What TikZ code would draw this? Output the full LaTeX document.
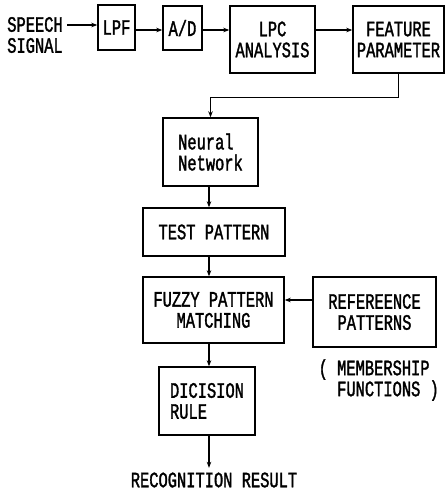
\documentclass[tikz,border=0pt]{standalone}
\usepackage{fontspec}
\usepackage{tikz}
\usetikzlibrary{arrows.meta}
\newfontfamily\scanfont{Liberation Mono}[FakeStretch=0.7,FakeBold=1.5]

\begin{document}
\begin{tikzpicture}[x=1pt, y=-1pt, line width=1.4pt,
    blk/.style={draw, inner sep=2pt},
    lbl/.style={inner sep=0pt},
    arr/.style={-{Stealth[length=6pt,width=4.5pt]}},
    font=\scanfont\fontsize{22}{21}\selectfont]
  \useasboundingbox (0,0) rectangle (445,491);
  % Nodes
  \foreach \n/\x/\y/\w/\h/\al/\t in {
      lpf/116.5/27.5/37/45/center/LPF,
      ad/182.5/28/39/44/center/{A/D},
      lpc/272.5/39.5/85/67/center/{LPC\\ANALYSIS},
      feat/398.5/39.5/91/67/center/{FEATURE\\PARAMETER},
      nn/210.5/152/95/68/left/{Neural\\Network},
      test/214/232/142/48/center/{TEST PATTERN},
      fuzzy/213.5/310/141/66/center/{FUZZY PATTERN\\MATCHING},
      ref/374.5/312/123/70/center/{REFEREENCE\\PATTERNS},
      rule/207/401/96/68/left/{DICISION\\RULE}} {
    \node[blk, align=\al, minimum width=\w pt, minimum height=\h pt] (\n) at (\x,\y) {\t};
  }
  \node[lbl, align=left] (speech) at (35,35) {SPEECH\\SIGNAL};
  \node[lbl, align=left, anchor=west] (memb) at (318,380) {( MEMBERSHIP\\\ \ FUNCTIONS )};
  \node[lbl] (result) at (214,480) {RECOGNITION RESULT};
  \coordinate (sin) at (67,25);
  \coordinate (row) at (0,30);
  \coordinate (refrow) at (0,300);
  \coordinate (spine) at (209,0);
  % Edges
  \draw[arr] (sin) -- (sin -| lpf.west);
  \foreach \source/\target in {lpf/ad, ad/lpc, lpc/feat} {
    \draw[arr] (\source.east |- row) -- (\target.west |- row);
  }
  \draw[arr] (feat.south) -- ++(0,24) -| (nn.north);
  \foreach \source/\target in {nn/test, test/fuzzy, fuzzy/rule} {
    \draw[arr] (spine |- \source.south) -- (spine |- \target.north);
  }
  \draw[arr, shorten >=4pt] (spine |- rule.south) -- (spine |- result.north);
  \draw[arr] (ref.west |- refrow) -- (fuzzy.east |- refrow);
\end{tikzpicture}
\end{document}
